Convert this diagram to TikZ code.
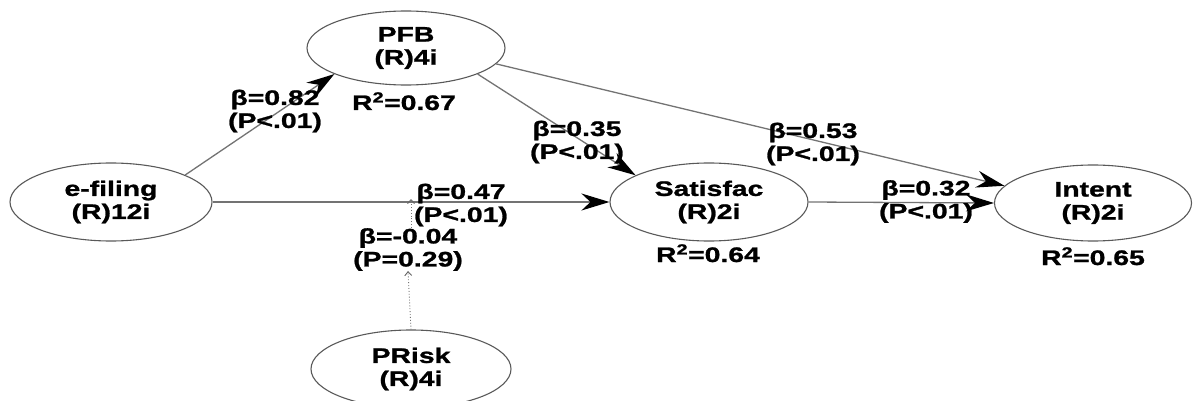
\documentclass[tikz,border=0pt]{standalone}
\usepackage{fontspec}
\setmainfont{Liberation Sans}[FakeStretch=1.35, BoldFeatures={FakeBold=1.2}]
\usetikzlibrary{shapes.geometric,arrows.meta}
\begin{document}
\begin{tikzpicture}[x=1pt,y=-1pt,
  every node/.style={font=\fontsize{21}{23}\selectfont\bfseries, inner sep=0pt},
  construct/.style={ellipse, draw=black!65, line width=1.1pt, minimum width=198pt, minimum height=76pt, align=center},
  lbl/.style={align=center},
  path/.style={draw=black!55, line width=1.3pt, -{Stealth[length=28pt,width=17pt,inset=9pt,color=black]}},
  moder/.style={draw=black!55, line width=0.9pt, dotted, -{Straight Barb[length=4pt,width=7pt,color=black!60]}}
]
\useasboundingbox (0,0) rectangle (1194,401);
% constructs
\node[construct, minimum width=202pt, minimum height=78pt] (ef) at (111,202) {e-filing\\(R)12i};
\node[construct, minimum height=74pt] (pfb) at (406,48) {PFB\\(R)4i};
\node[construct, minimum height=78pt] (sat) at (709,202) {Satisfac\\(R)2i};
\node[construct, minimum width=197pt] (int) at (1093,203) {Intent\\(R)2i};
\node[construct, minimum width=200pt, minimum height=78pt] (pr) at (411,369) {PRisk\\(R)4i};
% moderator line
\coordinate (m) at (pr.north |- ef.east);
\node[lbl, fill=white] (lm) at (408,249.5) {β=-0.04\\(P=0.29)};
% paths
\draw[path] (ef.20) -- (pfb.200);
\draw[path] (ef.east) -- (sat.west);
\draw[path] (pfb.340) -- (sat.160);
\draw[path] (pfb.350) -- (int.169);
\draw[path] (sat.east) -- (int.west);
\draw[moder] (pr.north) -- (lm.south);
\draw[moder] (lm.north -| pr.north) -- ([yshift=3pt]m);
% labels
\node[lbl] (l1) at (275,111) {β=0.82\\(P<.01)};
\node[lbl] (l2) at (577,142) {β=0.35\\(P<.01)};
\node[lbl] (l3) at (813,144) {β=0.53\\(P<.01)};
\node[lbl] (l4) at (461,205) {β=0.47\\(P<.01)};
\node[lbl] (l5) at (926,201.5) {β=0.32\\(P<.01)};
\node[anchor=base] (r1) at (404,110) {R\textsuperscript{2}=0.67};
\node[anchor=base] (r2) at (708,262) {R\textsuperscript{2}=0.64};
\node[anchor=base] (r3) at (1093,265) {R\textsuperscript{2}=0.65};
\end{tikzpicture}
\end{document}
